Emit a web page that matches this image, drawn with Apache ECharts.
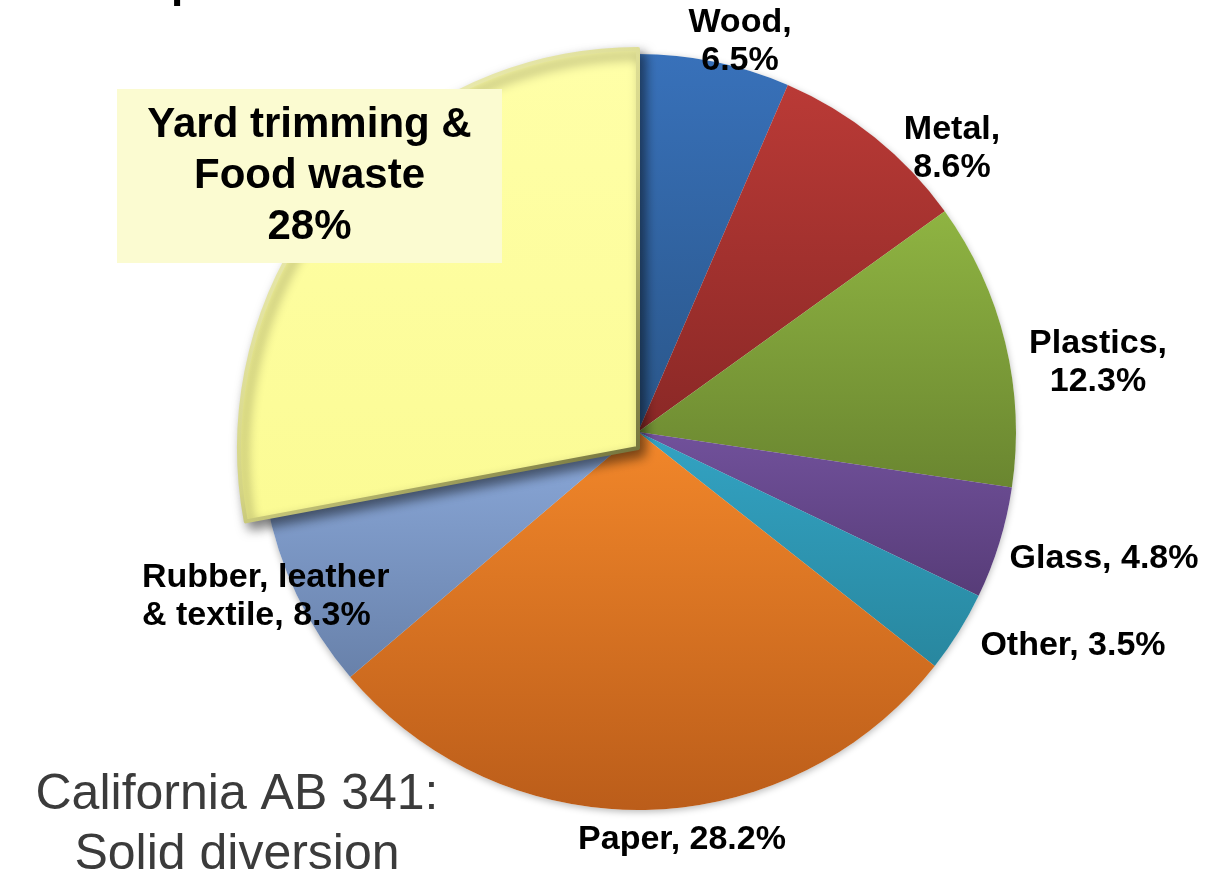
<!DOCTYPE html>
<html>
<head>
<meta charset="utf-8">
<title>California AB 341: Solid diversion</title>
<script src="https://cdn.jsdelivr.net/npm/echarts/dist/echarts.min.js"></script>
<style>
  html, body { margin: 0; padding: 0; background: #ffffff; }
  #chart { width: 1206px; height: 879px; }
</style>
</head>
<body>
<div id="chart"></div>
<script>
// Waste stream composition, clockwise from 12 o'clock
const categories = ['Wood', 'Metal', 'Plastics', 'Glass', 'Other', 'Paper', 'Rubber, leather\n& textile', 'Yard trimming &\nFood waste'];
const shares = [6.5, 8.6, 12.3, 4.8, 3.5, 28.2, 8.3, 28];

// Slice shading (top colour, bottom colour)
const topColors = ['#3871ba', '#ba3a36', '#8fb442', '#71519b', '#33a3c3', '#f2872a', '#8ba9da', '#ffffa8'];
const bottomColors = ['#2a5689', '#8a2826', '#6a8630', '#573c78', '#28879f', '#bb5d1a', '#6881aa', '#fbfb94'];

const FEATURED = categories.length - 1;   // the pulled-out slice
const FONT = '"Liberation Sans", Arial, Helvetica, sans-serif';

// Where each slice label sits
const labelSpots = [
  { x: 740, y: 42, align: 'center' },
  { x: 952, y: 149, align: 'center' },
  { x: 1098, y: 363, align: 'center' },
  { x: 1104, y: 559, align: 'center' },
  { x: 1073, y: 646, align: 'center' },
  { x: 682, y: 840, align: 'center' },
  { x: 142, y: 597, align: 'left' },
  { x: 309.5, y: 176, align: 'center' }
];
const twoLine = [true, true, true, false, false, false, false, false];

function shade(i) {
  return new echarts.graphic.LinearGradient(0, 0, 0, 1, [
    { offset: 0, color: topColors[i] },
    { offset: 1, color: bottomColors[i] }
  ]);
}

const baseData = categories.map((name, i) => ({
  name: name,
  value: shares[i],
  itemStyle: { color: shade(i) },
  label: { show: i !== FEATURED }
}));

const shadowData = categories.map((name, i) => ({
  name: name,
  value: shares[i]
}));

const featuredData = categories.map((name, i) => (i === FEATURED ? {
  name: name,
  value: shares[i],
  itemStyle: {
    color: shade(i),
    borderWidth: 4,
    borderColor: new echarts.graphic.LinearGradient(0, 0, 1, 1, [
      { offset: 0, color: '#fdfdd6' },
      { offset: 0.55, color: '#d4d483' },
      { offset: 1, color: '#5c5c2c' }
    ]),
    shadowColor: 'rgba(0,0,0,0.5)',
    shadowBlur: 12,
    shadowOffsetX: 5,
    shadowOffsetY: 6
  },
  label: { show: true }
} : {
  name: name,
  value: shares[i],
  itemStyle: { color: 'rgba(0,0,0,0)' },
  label: { show: false }
}));

const chart = echarts.init(document.getElementById('chart'), null, { renderer: 'canvas' });

chart.setOption({
  animation: false,
  backgroundColor: '#ffffff',
  graphic: [
    {
      type: 'text',
      x: 237,
      y: 765,
      style: {
        text: 'California AB 341:\nSolid diversion',
        font: '50px ' + FONT,
        fill: '#3b3b3b',
        lineHeight: 60,
        align: 'center',
        verticalAlign: 'top'
      }
    },
    {
      // the tail of the heading above, cut by the top edge
      type: 'text',
      x: 171,
      y: -15,
      style: {
        text: 'p',
        font: 'bold 44px ' + FONT,
        fill: '#000000',
        align: 'left',
        verticalAlign: 'middle'
      }
    }
  ],
  series: [
    {
      // soft drop shadow under the whole pie
      type: 'pie',
      center: [638, 432],
      radius: 378,
      startAngle: 90,
      silent: true,
      z: 1,
      label: { show: false },
      labelLine: { show: false },
      itemStyle: {
        color: '#ffffff',
        shadowColor: 'rgba(0,0,0,0.28)',
        shadowBlur: 7,
        shadowOffsetY: 2
      },
      data: shadowData
    },
    {
      type: 'pie',
      center: [638, 432],
      radius: 378,
      startAngle: 90,
      avoidLabelOverlap: false,
      z: 2,
      itemStyle: { borderWidth: 0 },
      labelLine: { show: false },
      label: {
        position: 'outside',
        fontFamily: FONT,
        fontWeight: 'bold',
        fontSize: 34,
        lineHeight: 38,
        color: '#000000',
        formatter: p => p.name + (twoLine[p.dataIndex] ? ',\n' : ', ') + p.value + '%'
      },
      labelLayout: p => ({
        x: labelSpots[p.dataIndex].x,
        y: labelSpots[p.dataIndex].y,
        align: labelSpots[p.dataIndex].align,
        verticalAlign: 'middle'
      }),
      data: baseData
    },
    {
      // the pulled-out slice, drawn on top with its boxed label
      type: 'pie',
      center: [638, 448],
      radius: 399,
      startAngle: 90,
      avoidLabelOverlap: false,
      z: 3,
      labelLine: { show: false },
      label: {
        position: 'outside',
        fontFamily: FONT,
        fontWeight: 'bold',
        fontSize: 42,
        lineHeight: 51,
        color: '#000000',
        align: 'center',
        width: 327,
        padding: [11, 29, 10, 29],
        backgroundColor: '#fbfbd1',
        formatter: p => p.name + '\n' + p.value + '%'
      },
      labelLayout: p => ({
        x: labelSpots[p.dataIndex].x,
        y: labelSpots[p.dataIndex].y,
        align: 'center',
        verticalAlign: 'middle'
      }),
      data: featuredData
    }
  ]
});
</script>
</body>
</html>
